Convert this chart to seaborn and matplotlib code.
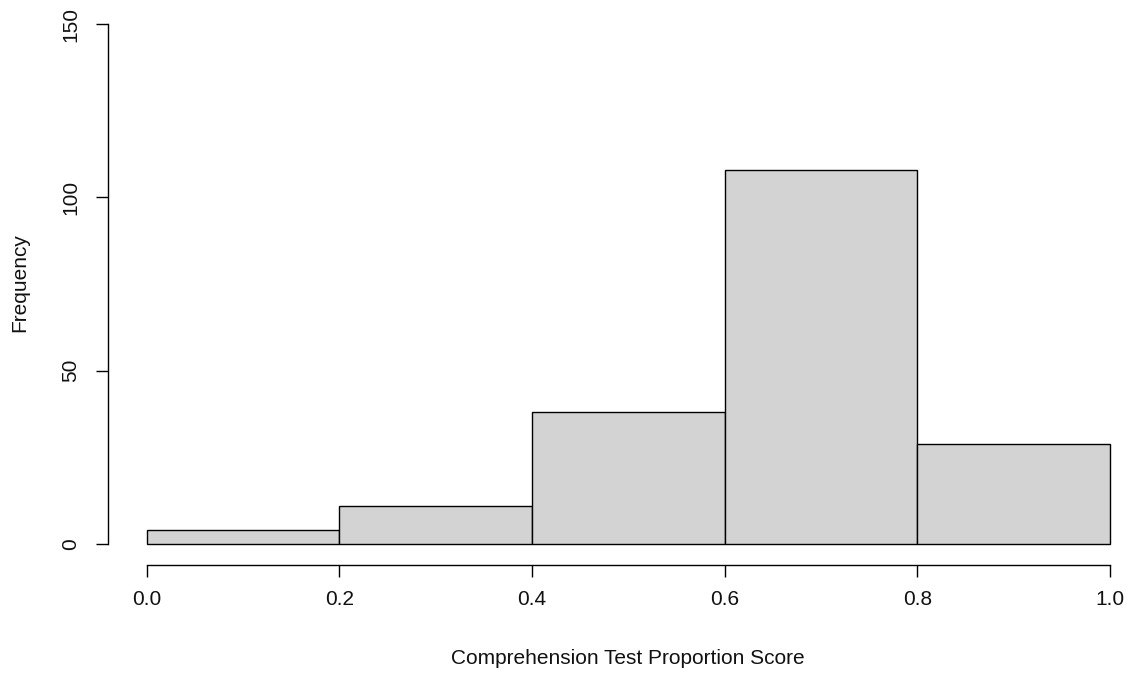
import matplotlib
matplotlib.use("Agg")
import matplotlib.pyplot as plt
import seaborn as sns
import numpy as np

# Data
bin_edges = [0.0, 0.2, 0.4, 0.6, 0.8, 1.0]
counts = [4, 11, 38, 108, 29]
x_ticks = [0.0, 0.2, 0.4, 0.6, 0.8, 1.0]
x_tick_labels = ["0.0", "0.2", "0.4", "0.6", "0.8", "1.0"]
y_ticks = [0, 50, 100, 150]
y_tick_labels = ["0", "50", "100", "150"]
x_label = "Comprehension Test Proportion Score"
y_label = "Frequency"

sns.set_theme(style="white")
plt.rcParams['font.family'] = ['Liberation Sans', 'DejaVu Sans']

W, H = 1131, 673
fig = plt.figure(figsize=(W / 100, H / 100), dpi=100)
left, right, top, bottom = 108, 1148.5, 3.2, 565.0
ax = fig.add_axes([left / W, (H - bottom) / H, (right - left) / W, (bottom - top) / H])

centers = [(bin_edges[i] + bin_edges[i + 1]) / 2 for i in range(len(counts))]
sns.histplot(x=centers, weights=counts, bins=bin_edges, color="#d3d3d3",
             edgecolor="black", linewidth=1.0, alpha=1.0, ax=ax)

ax.set_xlim(-0.04, 1.04)
ax.set_ylim(-6, 156)
ax.set_xticks(x_ticks)
ax.set_xticklabels(x_tick_labels)
ax.set_yticks(y_ticks)
ax.set_yticklabels(y_tick_labels, rotation=90, va="center")

for s in ["top", "right"]:
    ax.spines[s].set_visible(False)
ax.spines["left"].set_bounds(0, 150)
ax.spines["bottom"].set_bounds(0, 1)
for s in ["left", "bottom"]:
    ax.spines[s].set_color("black")
    ax.spines[s].set_linewidth(1.0)

ax.tick_params(axis="both", which="major", length=8.6, width=1.0, color="black",
               labelsize=15, labelcolor="#111111", direction="out", left=True, bottom=True)
ax.tick_params(axis="x", pad=9.5)
ax.tick_params(axis="y", pad=11.2)

ax.set_xlabel(x_label, fontsize=15, color="#111111")
ax.set_ylabel(y_label, fontsize=15, color="#111111")
ax.xaxis.set_label_coords((628 - left) / (right - left), -(649 - bottom) / (bottom - top))
ax.yaxis.set_label_coords(-(108 - 29.5) / (right - left), (bottom - 283) / (bottom - top))
ax.grid(False)

fig.savefig("out.png", dpi=100)
